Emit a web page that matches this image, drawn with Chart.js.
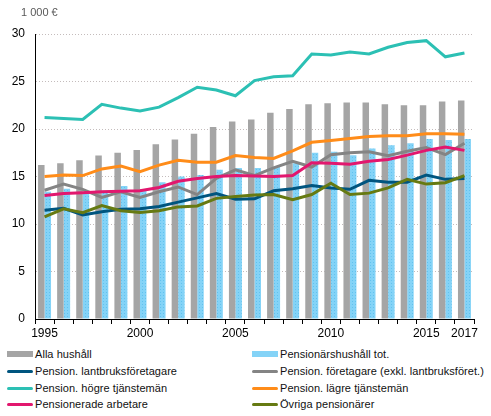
<!DOCTYPE html>
<html>
<head>
<meta charset="utf-8">
<script src="https://cdn.jsdelivr.net/npm/chart.js@4/dist/chart.umd.min.js"></script>
<style>
	body { margin: 0; background: #fff; font-family: "Liberation Sans", Arial, sans-serif; }
	#wrap { position: relative; width: 491px; height: 416px; }
	#grafik_box { position: absolute; left: 0; top: 0; width: 491px; height: 345px; }
	#enhet { position: absolute; left: 21px; top: 6px; font-size: 11px; color: #595959; }
	#legenda { position: absolute; left: 0; top: 346px; width: 491px; }
	.item { position: absolute; font-size: 11px; color: #111; letter-spacing: 0.05px; white-space: nowrap; height: 16px; line-height: 16px; }
	.item span.sw { position: absolute; left: 0; width: 26px; }
	.item span.tx { position: absolute; left: 28px; }
</style>
</head>
<body>
<div id="wrap">
	<div id="grafik_box"><canvas id="grafikhushall"></canvas></div>
	<div id="enhet">1 000 €</div>
	<div id="legenda"></div>
</div>
<script>
var tahun = ['1995','1996','1997','1998','1999','2000','2001','2002','2003','2004','2005','2006',
	'2007','2008','2009','2010','2011','2012','2013','2014','2015','2016','2017'];
var label_tahun = ['1995','2000','2005','2010','2015','2017'];

var alla_hushall = [16.2,16.4,16.7,17.2,17.5,17.8,18.4,18.9,19.5,20.2,20.8,21.0,21.7,22.1,22.6,22.7,22.8,22.8,22.6,22.5,22.5,22.9,23.0];
var pensionar_tot = [13.4,13.7,13.3,13.5,14.0,13.65,14.4,15.0,15.15,15.7,15.9,15.9,16.0,16.4,17.5,17.6,17.25,17.95,18.3,18.5,18.95,18.85,18.95];
var lantbruk = [11.45,11.65,10.95,11.3,11.55,11.6,11.85,12.3,12.75,13.2,12.6,12.65,13.5,13.7,14.05,13.8,13.65,14.6,14.4,14.4,15.15,14.7,14.8];
var foretagare = [13.55,14.2,13.65,12.8,13.4,12.8,13.4,13.9,13.1,14.8,15.7,15.1,15.9,16.6,16.0,17.3,17.5,17.6,17.2,17.65,18.05,17.3,18.5];
var hogre_tj = [21.2,21.1,21.0,22.6,22.2,21.9,22.3,23.3,24.4,24.1,23.5,25.1,25.5,25.6,27.9,27.8,28.1,27.9,28.6,29.1,29.3,27.6,28.0];
var lagre_tj = [15.0,15.15,15.1,15.8,16.1,15.5,16.2,16.7,16.5,16.5,17.2,17.0,16.9,17.7,18.6,18.8,19.0,19.2,19.3,19.3,19.5,19.5,19.45];
var arbetare = [13.0,13.2,13.3,13.4,13.45,13.5,13.85,14.5,14.8,15.0,15.1,15.05,15.0,15.1,16.45,16.4,16.3,16.6,16.8,17.25,17.75,18.1,17.75];
var ovriga = [10.75,11.6,11.2,11.95,11.4,11.2,11.4,11.8,11.9,12.7,12.9,13.05,13.1,12.55,13.1,14.3,13.1,13.25,13.8,14.7,14.2,14.35,15.1];

// light blue bars have a small dot texture
function pola_titik(){
	var c = document.createElement('canvas');
	c.width = 3; c.height = 3;
	var g = c.getContext('2d');
	g.fillStyle = '#84d3f7';
	g.fillRect(0, 0, 3, 3);
	g.fillStyle = '#62c2ee';
	g.fillRect(1, 1, 1, 1);
	return g.createPattern(c, 'repeat');
}

function garis(label, data, warna, urut){
	return {
		type: 'line', label: label, data: data, borderColor: warna, backgroundColor: warna,
		borderWidth: 3, pointRadius: 0, tension: 0, fill: false, order: urut
	};
}

var datasets = [
	{ type: 'bar', label: 'Alla hushåll', data: alla_hushall, backgroundColor: '#a5a5a5', order: 20 },
	{ type: 'bar', label: 'Pensionärshushåll tot.', data: pensionar_tot, backgroundColor: pola_titik(), order: 20 },
	garis('Pension. lantbruksföretagare', lantbruk, '#00557f', 8),
	garis('Pension. företagare (exkl. lantbruksföret.)', foretagare, '#848484', 7),
	garis('Pension. högre tjänstemän', hogre_tj, '#2cc0b4', 6),
	garis('Pension. lägre tjänstemän', lagre_tj, '#ff8c19', 5),
	garis('Pensionerade arbetare', arbetare, '#e2176e', 4),
	garis('Övriga pensionärer', ovriga, '#667a12', 3)
];

var ctx = document.getElementById('grafikhushall');
var grafikku = new Chart(ctx, {
	type: 'bar',
	data: { labels: tahun, datasets: datasets },
	options: {
		responsive: true,
		maintainAspectRatio: false,
		animation: false,
		layout: { padding: { left: 0, right: 17, top: 34, bottom: 4 } },
		plugins: { legend: { display: false }, tooltip: { enabled: false } },
		datasets: { bar: { categoryPercentage: 0.68, barPercentage: 1.0 } },
		scales: {
			x: {
				offset: true,
				grid: { display: true, drawOnChartArea: false, drawTicks: true, tickLength: 5, color: '#000', offset: true },
				border: { display: true, color: '#000', width: 1 },
				ticks: {
					autoSkip: false, maxRotation: 0, padding: 2, color: '#000',
					font: { family: 'Liberation Sans', size: 12 },
					callback: function(v, i){
						var t = tahun[i];
						return label_tahun.indexOf(t) >= 0 ? t : '';
					}
				},
				afterFit: function(s){ s.height = 22; }
			},
			y: {
				min: 0, max: 30,
				ticks: { stepSize: 5, padding: 10, color: '#000', font: { family: 'Liberation Sans', size: 12 } },
				grid: { drawTicks: false, color: '#c4bcbc', lineWidth: 1 },
				// v4: border.dash sets the dash of the grid lines
				border: { display: true, color: '#000', width: 1, dash: [1, 2] },
				afterFit: function(s){ s.width = 35; }
			}
		}
	}
});

// legend in two columns, built from the datasets
var legenda = document.getElementById('legenda');
for (var i = 0; i < datasets.length; i++){
	var ds = datasets[i];
	var kol = i % 2, baris = Math.floor(i / 2);
	var el = document.createElement('div');
	el.className = 'item';
	el.style.left = (kol == 0 ? 7 : 252) + 'px';
	el.style.top = (baris * 16.8) + 'px';
	var sw = document.createElement('span');
	sw.className = 'sw';
	if (ds.type == 'bar'){
		sw.style.top = '5px'; sw.style.height = '6px';
		sw.style.background = (i == 0) ? '#a5a5a5' : '#84d3f7';
	} else {
		sw.style.top = '7px'; sw.style.height = '3px'; sw.style.borderRadius = '2px';
		sw.style.background = ds.borderColor;
	}
	var tx = document.createElement('span');
	tx.className = 'tx';
	tx.textContent = ds.label;
	el.appendChild(sw);
	el.appendChild(tx);
	legenda.appendChild(el);
}
</script>
</body>
</html>
